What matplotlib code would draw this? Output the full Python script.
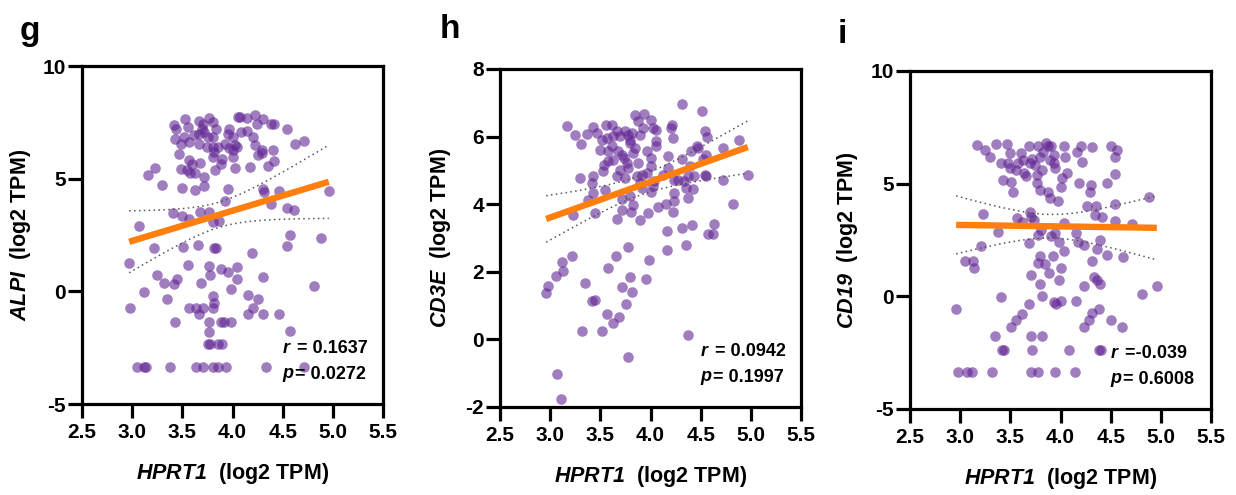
import numpy as np
import matplotlib
matplotlib.use("Agg")
import matplotlib.pyplot as plt

plt.rcParams['font.family'] = ['Liberation Sans', 'DejaVu Sans']
plt.rcParams['font.weight'] = 'bold'
plt.rcParams['mathtext.fontset'] = 'custom'
plt.rcParams['mathtext.it'] = 'Liberation Sans:italic:bold'
plt.rcParams['mathtext.rm'] = 'Liberation Sans:italic:bold'
plt.rcParams['mathtext.bf'] = 'Liberation Sans:italic:bold'

# ---------------- data ----------------
g_x = [3.53, 3.42, 3.44, 3.56, 3.67, 3.77, 3.81, 3.70, 3.72, 3.67, 3.43, 3.52, 3.49, 3.57, 3.67,
       3.75, 3.81, 3.84, 3.86, 3.82, 3.81, 3.90, 3.89, 3.83, 3.47, 3.57, 3.60, 3.55, 3.58, 3.68,
       3.72, 3.97, 3.96, 4.00, 3.93, 4.02, 3.97, 4.00, 4.05, 4.14, 4.14, 4.22, 4.24, 4.30, 4.38,
       4.41, 4.54, 4.20, 4.22, 4.25, 4.29, 4.29, 4.40, 4.41, 4.35, 4.17, 4.02, 4.62, 4.71, 3.16,
       3.23, 3.30, 3.50, 3.63, 3.72, 3.96, 3.93, 4.30, 4.31, 4.46, 4.38, 4.54, 4.61, 4.96, 3.41,
       3.50, 3.57, 3.68, 3.77, 3.81, 3.87, 3.07, 3.22, 3.51, 3.66, 3.82, 3.84, 4.19, 4.57, 4.54,
       4.88, 2.97, 3.56, 3.77, 3.78, 3.89, 3.96, 4.04, 4.04, 4.30, 3.25, 3.32, 3.42, 3.45, 3.69,
       3.99, 3.12, 4.81, 2.98, 3.35, 3.57, 3.64, 3.67, 3.71, 3.81, 3.82, 3.81, 4.15, 4.25, 4.20,
       4.15, 4.30, 4.46, 3.43, 3.77, 3.89, 3.92, 3.99, 3.77, 4.57, 3.76, 3.78, 3.86, 3.90, 3.05,
       3.12, 3.14, 3.38, 3.64, 3.71, 3.81, 3.86, 3.94, 4.33, 4.71, 3.62, 3.76, 3.71, 4.08, 4.04,
       3.81, 4.00, 3.49, 3.63, 4.07]
g_y = [7.67, 7.37, 7.22, 7.30, 7.56, 7.71, 7.52, 7.22, 7.08, 7.00, 6.78, 6.85, 6.56, 6.63, 6.56,
       6.41, 6.85, 7.22, 6.41, 6.19, 5.97, 5.89, 5.67, 5.38, 6.08, 5.85, 5.64, 5.38, 5.23, 5.70,
       5.08, 7.22, 7.00, 6.85, 6.56, 6.48, 6.34, 6.26, 7.74, 7.71, 7.10, 7.81, 7.44, 7.67, 7.42,
       7.42, 7.22, 6.85, 6.48, 6.04, 6.12, 6.26, 6.29, 5.79, 5.57, 5.52, 5.48, 6.56, 6.65, 5.16,
       5.48, 4.71, 4.60, 4.49, 4.68, 4.52, 4.00, 4.56, 4.42, 4.46, 3.87, 3.68, 3.60, 4.45, 3.46,
       3.34, 3.19, 3.50, 3.50, 3.09, 3.13, 2.92, 1.94, 1.98, 2.05, 1.91, 1.91, 1.68, 2.50, 2.02,
       2.35, 1.24, 1.17, 1.12, 0.72, 0.99, 0.87, 1.09, 0.55, 0.65, 0.72, 0.35, 0.32, 0.55, 0.35,
       0.09, -0.04, 0.24, -0.75, -0.35, -0.75, -0.75, -1.02, -0.75, -0.19, -0.53, -0.75, -0.16, -0.35, -0.75,
       -1.02, -1.02, -1.02, -1.36, -1.36, -1.36, -1.36, -1.36, -1.79, -1.76, -2.35, -2.35, -2.35, -2.35, -3.37,
       -3.37, -3.37, -3.37, -3.37, -3.37, -3.37, -3.37, -3.37, -3.37, -3.37, 6.93, 6.85, 7.44, 7.08, 6.41,
       6.41, 5.97, 5.45, 5.23, 7.74]

h_x = [3.17, 3.25, 3.31, 3.37, 3.43, 3.47, 3.56, 3.62, 3.52, 3.57, 3.63, 3.70, 3.75, 3.78, 3.82,
       3.85, 3.88, 3.94, 4.00, 4.02, 4.05, 3.93, 3.90, 3.80, 3.50, 3.58, 3.68, 3.72, 3.83, 3.58,
       3.54, 3.53, 3.63, 3.77, 3.78, 3.70, 3.67, 3.75, 3.87, 3.92, 3.97, 4.00, 4.05, 4.05, 3.97,
       4.00, 3.88, 3.90, 3.92, 4.02, 4.00, 4.17, 4.17, 4.20, 4.21, 4.22, 4.31, 4.51, 4.54, 4.56,
       4.46, 4.47, 4.55, 4.52, 4.31, 4.27, 4.33, 4.37, 4.43, 4.39, 4.35, 4.42, 4.37, 4.54, 4.55,
       4.72, 4.88, 4.72, 4.97, 4.82, 4.23, 4.23, 4.15, 4.07, 4.22, 3.98, 3.90, 3.67, 3.72, 3.81,
       3.83, 3.80, 3.72, 3.30, 3.42, 3.43, 3.43, 3.38, 3.45, 3.23, 4.63, 4.57, 4.62, 4.41, 4.31,
       4.16, 4.16, 4.35, 3.66, 3.78, 3.99, 3.22, 3.12, 3.13, 3.06, 2.98, 2.96, 3.58, 3.80, 3.96,
       3.35, 3.72, 3.82, 3.42, 3.45, 3.76, 3.57, 3.63, 3.69, 3.32, 3.52, 4.37, 3.78, 3.07, 3.11,
       3.62, 3.74, 3.85, 3.67, 3.80, 4.12, 4.23, 4.40, 4.03, 3.55]
h_y = [6.32, 6.06, 5.79, 6.09, 6.28, 6.11, 6.35, 6.35, 5.91, 5.96, 6.01, 6.01, 6.16, 6.06, 6.11,
       6.65, 6.45, 6.68, 6.50, 6.25, 6.20, 6.25, 6.06, 5.81, 5.61, 5.56, 5.56, 5.47, 5.51, 5.27,
       5.17, 4.97, 5.32, 5.22, 5.07, 5.02, 4.82, 4.78, 4.82, 4.87, 4.92, 5.12, 5.71, 5.86, 5.56,
       5.37, 5.22, 4.63, 4.48, 4.53, 4.36, 5.07, 5.42, 6.25, 6.35, 5.96, 6.96, 6.76, 6.17, 6.00,
       5.71, 5.66, 5.47, 5.34, 5.34, 4.73, 4.68, 4.84, 4.82, 5.12, 4.48, 4.45, 4.18, 4.87, 4.82,
       5.66, 5.91, 4.73, 4.87, 4.00, 4.33, 4.08, 4.02, 3.91, 3.77, 3.74, 3.54, 3.56, 3.84, 3.77,
       3.99, 4.23, 4.15, 4.78, 4.63, 4.33, 4.84, 4.13, 3.74, 3.69, 3.42, 3.12, 3.12, 3.37, 3.29,
       3.20, 2.65, 2.78, 2.48, 2.73, 2.36, 2.48, 2.29, 2.01, 1.87, 1.57, 1.37, 2.10, 1.85, 1.80,
       1.67, 1.55, 1.40, 1.13, 1.18, 1.06, 0.76, 0.49, 0.66, 0.26, 0.26, 0.13, -0.53, -1.01, -1.75,
       5.71, 5.37, 5.66, 6.16, 5.91, 4.87, 4.73, 5.56, 4.68, 4.43]

i_x = [3.17, 3.25, 3.30, 3.36, 3.47, 3.50, 3.41, 3.43, 3.51, 3.53, 3.56, 3.58, 3.61, 3.63, 3.66,
       3.69, 3.70, 3.72, 3.78, 3.80, 3.82, 3.77, 3.77, 3.80, 3.86, 3.88, 3.91, 3.94, 3.94, 3.95,
       3.88, 3.90, 3.98, 4.00, 4.03, 4.04, 4.06, 4.01, 4.16, 4.20, 4.21, 4.18, 4.31, 4.30, 4.29,
       4.50, 4.56, 4.54, 4.46, 4.54, 4.54, 4.88, 4.26, 4.35, 4.34, 4.41, 4.54, 4.71, 3.23, 3.38,
       3.21, 3.57, 3.62, 3.70, 3.71, 3.74, 3.69, 3.78, 3.81, 3.91, 3.95, 3.99, 4.03, 4.03, 4.15,
       4.17, 4.23, 4.36, 4.39, 4.46, 4.62, 3.05, 3.13, 3.14, 3.80, 3.78, 3.85, 3.93, 4.00, 3.89,
       3.99, 3.71, 3.80, 4.31, 4.33, 4.36, 4.39, 4.23, 4.81, 4.96, 3.41, 3.82, 2.96, 3.69, 3.94,
       3.96, 4.00, 4.15, 3.62, 3.56, 3.51, 4.31, 4.28, 4.38, 4.23, 4.50, 4.61, 3.35, 3.71, 3.82,
       3.42, 3.44, 3.72, 4.08, 4.38, 4.40, 2.98, 3.07, 3.12, 3.32, 3.71, 3.78, 3.95, 4.14, 3.50,
       3.64, 3.83, 3.75, 3.90, 3.48]
i_y = [6.72, 6.50, 6.20, 6.76, 6.76, 6.35, 5.91, 5.17, 5.09, 4.65, 5.61, 5.91, 6.35, 6.05, 5.32,
       6.65, 5.91, 6.08, 6.65, 6.20, 5.61, 5.39, 5.02, 4.72, 6.79, 6.65, 6.65, 6.28, 5.91, 5.69,
       4.65, 4.36, 4.21, 4.87, 6.65, 6.20, 5.46, 5.24, 6.42, 6.65, 5.98, 5.02, 6.62, 4.95, 4.65,
       6.68, 6.50, 6.20, 5.05, 5.42, 4.10, 4.43, 3.99, 3.99, 3.62, 3.51, 3.35, 3.22, 3.65, 2.85,
       2.24, 3.47, 3.32, 3.76, 3.54, 3.39, 2.36, 2.73, 2.95, 2.66, 2.83, 2.43, 3.25, 1.99, 2.80,
       2.43, 2.29, 2.09, 2.51, 1.84, 1.74, 1.59, 1.59, 1.24, 1.77, 1.47, 1.44, 1.80, 1.25, 1.03,
       0.73, 0.96, 0.54, 1.55, 0.84, 0.73, 0.54, 0.44, 0.11, 0.44, -0.03, 0.00, -0.57, -0.33, -0.23,
       -0.33, -0.20, -0.20, -0.77, -1.04, -1.38, -0.74, -1.04, -0.57, -1.36, -1.04, -1.36, -1.78, -1.78, -1.78,
       -2.37, -2.37, -2.37, -2.37, -2.37, -2.37, -3.36, -3.36, -3.36, -3.36, -3.36, -3.36, -3.36, -3.36, 5.69,
       5.46, 6.42, 5.83, 6.05, 5.91]

# regression lines (slope, intercept)
fit_slopes = [1.338, 1.059, -0.065]
fit_intercepts = [-1.774, 0.428, 3.363]

genes = ["ALPI", "CD3E", "CD19"]
letters = ["g", "h", "i"]
r_texts = ["= 0.1637", "= 0.0942", "=-0.039"]
p_texts = ["= 0.0272", "= 0.1997", "= 0.6008"]
ylims = [(-5, 10), (-2, 8), (-5, 10)]
yticks_list = [[-5, 0, 5, 10], [-2, 0, 2, 4, 6, 8], [-5, 0, 5, 10]]
xticks = [2.5, 3.0, 3.5, 4.0, 4.5, 5.0, 5.5]
xs_list = [g_x, h_x, i_x]
ys_list = [g_y, h_y, i_y]

# ---------------- layout ----------------
W, H = 1236, 495
fig = plt.figure(figsize=(W / 100, H / 100), dpi=100)
boxes = [(82, 66, 383, 404), (500, 69, 801, 407), (910, 71, 1211, 409)]
letter_pos = [(20, 40), (440, 38), (838, 43)]
ylabel_right = [33, 453, 860]

point_color = (0.38, 0.15, 0.58)
orange = "#ff7f0e"

for k in range(3):
    l, t, r_, b = boxes[k]
    aw, ah = r_ - l, b - t
    ax = fig.add_axes([l / W, 1 - b / H, aw / W, ah / H])
    x = np.array(xs_list[k])
    y = np.array(ys_list[k])
    ax.scatter(x, y, s=58, color=point_color, alpha=0.6, linewidths=0, zorder=2)

    # regression line and 95% confidence band of the fit
    n = len(x)
    slope, intercept = fit_slopes[k], fit_intercepts[k]
    xs = np.linspace(x.min(), x.max(), 100)
    ys = slope * xs + intercept
    resid = y - (slope * x + intercept)
    s_err = np.sqrt(np.sum(resid ** 2) / (n - 2))
    se = s_err * np.sqrt(1 / n + (xs - x.mean()) ** 2 / np.sum((x - x.mean()) ** 2))
    ci = 1.97 * se
    ax.plot(xs, ys, color=orange, lw=4.6, solid_capstyle='butt', zorder=3)
    ax.plot(xs, ys + ci, color="#555555", lw=1.1, ls=(0, (1, 2.2)), zorder=3)
    ax.plot(xs, ys - ci, color="#555555", lw=1.1, ls=(0, (1, 2.2)), zorder=3)

    ax.set_xlim(2.5, 5.5)
    ax.set_ylim(*ylims[k])
    ax.set_xticks(xticks)
    ax.set_xticklabels([f"{v:.1f}" for v in xticks])
    ax.set_yticks(yticks_list[k])
    ax.set_yticklabels([str(v) for v in yticks_list[k]])
    for s in ax.spines.values():
        s.set_linewidth(2.3)
    ax.tick_params(direction='out', length=10, width=2.3, labelsize=15)
    ax.tick_params(axis='x', pad=4)
    ax.tick_params(axis='y', pad=1.5)
    for lab in ax.get_xticklabels() + ax.get_yticklabels():
        lab.set_fontweight('bold')

    ax.set_xlabel(r"$\mathit{HPRT1}$  (log2 TPM)", fontsize=15.5, fontweight='bold')
    ax.set_ylabel(r"$\mathit{" + genes[k] + r"}$  (log2 TPM)", fontsize=15.5,
                  fontweight='bold')
    ax.xaxis.set_label_coords(0.5, -57 / ah)
    ax.yaxis.set_label_coords((ylabel_right[k] - l) / aw, 0.5)

    t1 = ax.text(0.665, 0.163, r"$\mathit{r}$", transform=ax.transAxes, fontsize=13,
                 fontweight='bold', va='center', ha='left')
    ax.annotate(" " + r_texts[k], xy=(1, 0.5), xycoords=t1, va='center', ha='left',
                fontsize=13, fontweight='bold')
    t2 = ax.text(0.665, 0.086, r"$\mathit{p}$", transform=ax.transAxes, fontsize=13,
                 fontweight='bold', va='center', ha='left')
    ax.annotate(p_texts[k], xy=(1, 0.5), xycoords=t2, va='center', ha='left',
                fontsize=13, fontweight='bold')

    lx, ly = letter_pos[k]
    fig.text(lx / W, 1 - ly / H, letters[k], fontsize=24, fontweight='bold',
             ha='left', va='baseline')

fig.savefig("out.png", dpi=100)
